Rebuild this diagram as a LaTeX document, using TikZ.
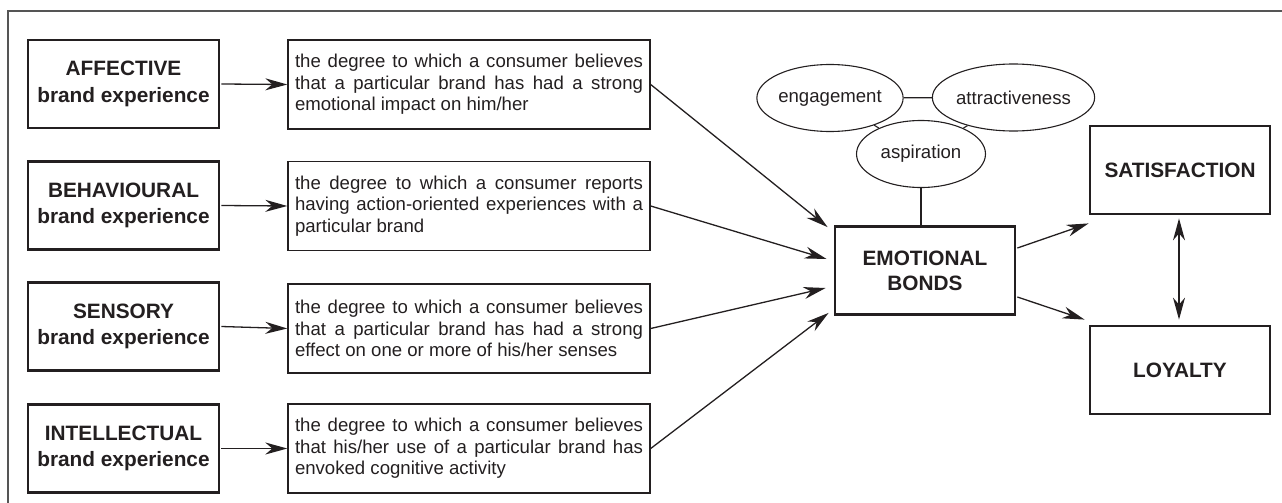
\documentclass[tikz,border=0pt]{standalone}
\usepackage{fontspec}
\setmainfont{Liberation Sans}
\usetikzlibrary{arrows.meta,shapes.geometric,calc}
\definecolor{ink}{RGB}{35,31,32}
\definecolor{framegray}{RGB}{85,85,85}
\begin{document}
\begin{tikzpicture}[x=1pt,y=-1pt,
  every node/.style={text=ink},
  bigbox/.style={draw=ink,line width=2.8pt,minimum width=191pt,minimum height=88pt,align=center,
    font=\fontsize{20.8}{26.5}\selectfont\bfseries,inner sep=0pt},
  rbox/.style={draw=ink,line width=2.8pt,minimum width=180pt,minimum height=88pt,align=center,
    font=\fontsize{20.8}{25}\selectfont\bfseries,inner sep=0pt},
  txtbox/.style={draw=ink,line width=1.4pt,minimum width=362pt,minimum height=89pt,align=left,
    inner xsep=7pt,font=\fontsize{18.6}{21.5}\selectfont},
  oval/.style={draw=ink,line width=1.1pt,ellipse,minimum width=129pt,minimum height=67pt,inner sep=0pt,
    font=\fontsize{18.6}{21.5}\selectfont},
  tip/.style={},
  arr/.style={draw=ink,line width=1.3pt,-{Stealth[length=22pt,width=12pt,inset=7pt]}},
  darr/.style={draw=ink,line width=1.3pt,{Stealth[length=22pt,width=12pt,inset=7pt]}-{Stealth[length=22pt,width=12pt,inset=7pt]}},
  lnk/.style={draw=ink,line width=1.1pt}
]
\useasboundingbox (0,0) rectangle (1282,503);
\coordinate (fr1) at (8,503);
\coordinate (fr2) at (8,11);
\coordinate (fr3) at (1282,11);
\draw[framegray,line width=1.5pt] (fr1) -- (fr2) -- (fr3);

\newcommand{\jl}[1]{\makebox[348pt][s]{#1}}

\node[bigbox] (aff) at (123.5,84) {AFFECTIVE\\brand experience};
\node[bigbox] (beh) at (123.5,205.5) {BEHAVIOURAL\\brand experience};
\node[bigbox] (sen) at (123.5,326.5) {SENSORY\\brand experience};
\node[bigbox] (int) at (123.5,448.5) {INTELLECTUAL\\brand experience};

\node[txtbox] (taff) at (469,84.5) {\jl{the degree to which a consumer believes}\\\jl{that a particular brand has had a strong}\\emotional impact on him/her};
\node[txtbox] (tbeh) at (469,206) {\jl{the degree to which a consumer reports}\\\jl{having action-oriented experiences with a}\\particular brand};
\node[txtbox] (tsen) at (469,328.5) {\jl{the degree to which a consumer believes}\\\jl{that a particular brand has had a strong}\\effect on one or more of his/her senses};
\node[txtbox] (tint) at (469,448.5) {\jl{the degree to which a consumer believes}\\\jl{that his/her use of a particular brand has}\\envoked cognitive activity};

\node[rbox] (eb) at (925,270.5) {EMOTIONAL\\BONDS};
\node[rbox] (sat) at (1180,170) {SATISFACTION};
\node[rbox] (loy) at (1180,370) {LOYALTY};

\node[oval] (eng) at (830,98) {engagement};
\node[oval] (att) at (1013.5,97.5) {attractiveness};
\node[oval] (asp) at (921,154) {aspiration};

\draw[arr] ([xshift=1pt]aff.east) -- (taff.west);
\draw[arr] ([xshift=1pt]beh.east) -- (tbeh.west);
\draw[arr] ([xshift=1pt]sen.east) -- (tsen.west);
\draw[arr] ([xshift=1pt]int.east) -- (tint.west);

\draw[arr] (taff.east) -- ($(eb.north west)+(-6,2)$);
\draw[arr] (tbeh.east) -- ($(eb.west)+(-7,-11.5)$);
\draw[arr] (tsen.east) -- ($(eb.west)+(-8,17.5)$);
\draw[arr] (tint.east) -- ($(eb.south west)+(-5,-3)$);

\draw[arr] ($(eb.east)+(1,-22.5)$) -- ($(sat.south west)+(0,8)$);
\draw[arr] ($(eb.east)+(1,26.5)$) -- ($(loy.north west)+(-4,-5)$);
\draw[darr] ($(sat.south)+(-1,3)$) -- ($(loy.north)+(-1,-5)$);

\draw[lnk] (eng) -- (att);
\draw[lnk] (eng) -- (asp);
\draw[lnk] (att) -- (asp);
\draw[lnk] (asp.south) -- (asp.south |- eb.north);
\end{tikzpicture}
\end{document}
